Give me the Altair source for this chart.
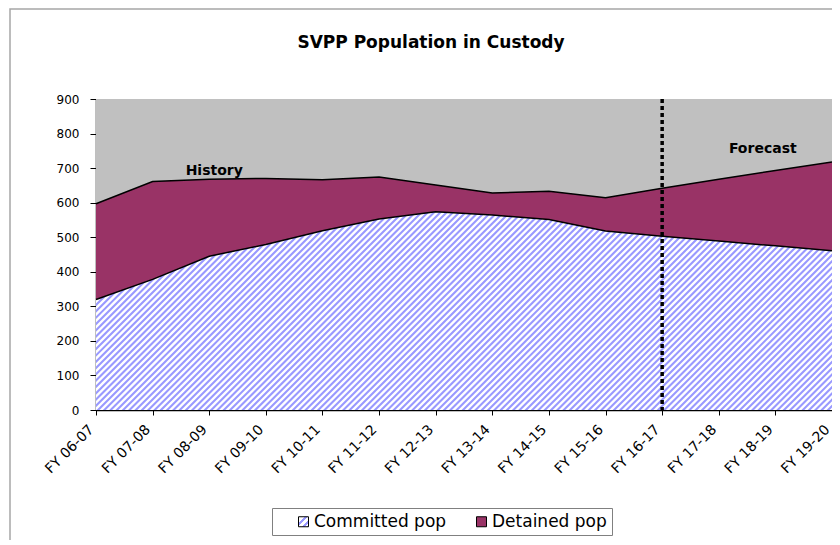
import altair as alt
import pandas as pd

# ---- data ----
years = ["FY 06-07", "FY 07-08", "FY 08-09", "FY 09-10", "FY 10-11", "FY 11-12", "FY 12-13",
         "FY 13-14", "FY 14-15", "FY 15-16", "FY 16-17", "FY 17-18", "FY 18-19", "FY 19-20"]
committed = [320, 378, 445, 479, 519, 553, 574, 564, 551, 518, 503, 489, 475, 461]
detained = [277, 283, 223, 191, 147, 121, 77, 64, 82, 96, 139, 179, 218, 257]
series_names = ["Committed pop", "Detained pop"]
forecast_start = ["FY 16-17"]
note_text = ["History", "Forecast"]
note_year = ["FY 08-09", "FY 17-18"]
note_value = [692, 754]
y_ticks = [0, 100, 200, 300, 400, 500, 600, 700, 800, 900]

# ---- tables ----
rows = []
for i, yr in enumerate(years):
    rows.append({"year": yr, "series": series_names[0], "value": committed[i], "ord": 0})
    rows.append({"year": yr, "series": series_names[1], "value": detained[i], "ord": 1})
long_df = pd.DataFrame(rows)
wide_df = pd.DataFrame({"year": years, "committed": committed,
                        "total": [c + d for c, d in zip(committed, detained)]})
rule_df = pd.DataFrame({"year": forecast_start})
notes_df = pd.DataFrame({"year": note_year, "value": note_value, "text": note_text})
one_row = pd.DataFrame({"k": [0]})

W, H = 736, 311
YMAX = 900
FONT = "DejaVu Sans"
BLUE = "#9999ff"
PLUM = "#993366"

# small hatched swatch for the legend symbol
sw = [(0.0, "#ffffff"), (0.30, "#ffffff"), (0.30, BLUE), (0.48, BLUE), (0.48, "#ffffff"),
      (0.64, "#ffffff"), (0.64, BLUE), (0.80, BLUE), (0.80, "#ffffff"), (0.92, "#ffffff"),
      (0.92, BLUE), (1.0, BLUE)]
legend_grad = "{gradient:'linear',x1:0,y1:0,x2:1,y2:1,stops:[%s]}" % ",".join(
    "{offset:%.3f,color:'%s'}" % s for s in sw)

xaxis = alt.Axis(title=None, labelAngle=-45, labelAlign="right", labelBaseline="alphabetic",
                 tickSize=5, labelPadding=15, labelOffset=-2, labelFontSize=14)
xscale = alt.Scale(type="point", padding=0)
yaxis = alt.Axis(title=None, values=y_ticks, tickSize=6, labelPadding=11, grid=False)
yscale = alt.Scale(domain=[0, YMAX], nice=False, zero=True)


def X():
    return alt.X("year:O", sort=years, scale=xscale, axis=xaxis)


def Y(f):
    return alt.Y(f, scale=yscale, axis=yaxis)


color_enc = alt.Color(
    "series:N",
    scale=alt.Scale(domain=series_names, range=[{"expr": legend_grad}, PLUM]),
    legend=alt.Legend(title=None, orient="none", legendX=176, legendY=409,
                      direction="horizontal", symbolType="square", symbolSize=100,
                      symbolStrokeColor="black", symbolStrokeWidth=1, symbolOffset=18,
                      labelFont=FONT, labelFontSize=17, labelColor="black",
                      labelOffset=2, columnPadding=8, padding=5,
                      strokeColor="#808080", fillColor="white"))

stacked = alt.Chart(long_df).transform_stack(
    stack="value", groupby=["year"], as_=["v0", "v1"], sort=[alt.SortField("ord")])

committed_area = stacked.transform_filter(alt.datum.series == series_names[0]).mark_area().encode(
    x=X(), y=Y("v1:Q"), y2="v0:Q", color=color_enc)

# hatch: white base + very wide dashed rule along the (1,1) diagonal, clipped to the plot
white_base = alt.Chart(one_row).mark_rect(fill="white").encode(
    x=alt.value(0), x2=alt.value(W), y=alt.value(0), y2=alt.value(H))
cx, cy, L = W / 2, H / 2, 600
hatch = alt.Chart(one_row).mark_rule(
    clip=True, color=BLUE, strokeWidth=1000, strokeDash=[2.1, 2.35], strokeCap="butt").encode(
    x=alt.value(cx - L), y=alt.value(cy - L), x2=alt.value(cx + L), y2=alt.value(cy + L))

gray_top = alt.Chart(wide_df).mark_area(color="#C0C0C0").encode(
    x=X(), y=Y("total:Q"), y2=alt.datum(YMAX))

detained_area = stacked.transform_filter(alt.datum.series == series_names[1]).mark_area().encode(
    x=X(), y=Y("v1:Q"), y2="v0:Q", color=color_enc)

line_c = alt.Chart(wide_df).mark_line(color="black", strokeWidth=1.5).encode(
    x=X(), y=Y("committed:Q"))
line_t = alt.Chart(wide_df).mark_line(color="black", strokeWidth=1.5).encode(
    x=X(), y=Y("total:Q"))

rule = alt.Chart(rule_df).mark_rule(color="black", strokeWidth=3.5, strokeDash=[4, 3]).encode(
    x=X())

hist = alt.Chart(notes_df.iloc[[0]]).mark_text(font=FONT, fontSize=14, fontWeight="bold",
                                                color="black", dx=5).encode(
    x=X(), y=Y("value:Q"), text="text:N")
fore = alt.Chart(notes_df.iloc[[1]]).mark_text(font=FONT, fontSize=14, fontWeight="bold",
                                                color="black", dx=44).encode(
    x=X(), y=Y("value:Q"), text="text:N")

frame = alt.Chart(one_row).mark_rect(
    fill="transparent", stroke="#a6a6a6", strokeWidth=1.5).encode(
    x=alt.value(-86), x2=alt.value(1000), y=alt.value(-90), y2=alt.value(700))

chart = alt.layer(frame, committed_area, white_base, hatch, gray_top, detained_area,
                  line_c, line_t, rule, hist, fore).properties(
    width=W, height=H,
    autosize="none",
    background="white",
    padding={"left": 88, "top": 91, "right": 0, "bottom": 130},
    title=alt.TitleParams(text="SVPP Population in Custody", font=FONT, fontSize=17,
                          fontWeight="bold", color="black", anchor="middle", dx=-33,
                          offset=-44, frame="group"),
).configure_view(
    fill="#C0C0C0", stroke="#808080", strokeWidth=1
).configure_axis(
    domainColor="black", tickColor="black", labelColor="black", labelFont=FONT,
    labelFontSize=12, grid=False, domainWidth=1.5
)

chart.save("out.html", embed_options={"renderer": "svg", "actions": False})
